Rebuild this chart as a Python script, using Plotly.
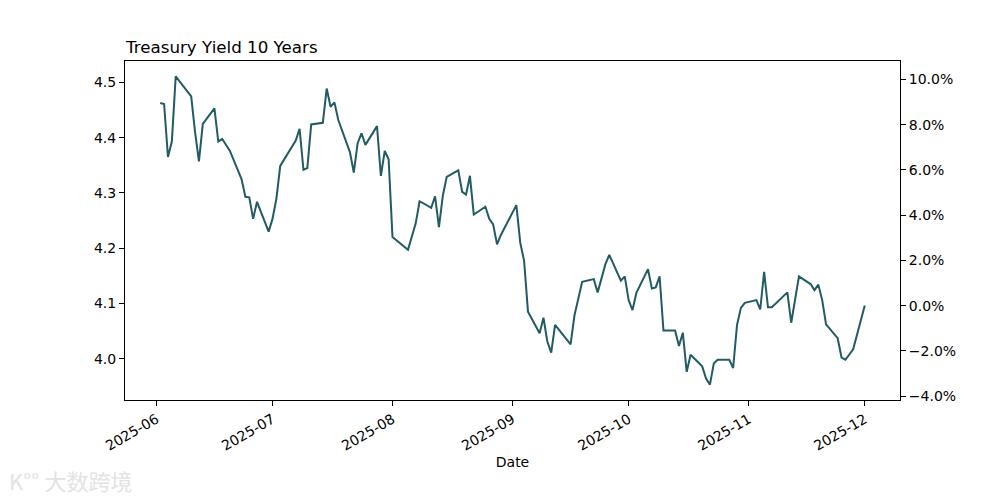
import plotly.graph_objects as go
import pandas as pd

dates = [
    "2025-06-02", "2025-06-03", "2025-06-04", "2025-06-05", "2025-06-06", "2025-06-10", "2025-06-11",
    "2025-06-12", "2025-06-13", "2025-06-16", "2025-06-17", "2025-06-18", "2025-06-20", "2025-06-23",
    "2025-06-24", "2025-06-25", "2025-06-26", "2025-06-27", "2025-06-30", "2025-07-01", "2025-07-02",
    "2025-07-03", "2025-07-07", "2025-07-08", "2025-07-09", "2025-07-10", "2025-07-11", "2025-07-14",
    "2025-07-15", "2025-07-16", "2025-07-17", "2025-07-18", "2025-07-21", "2025-07-22", "2025-07-23",
    "2025-07-24", "2025-07-25", "2025-07-28", "2025-07-29", "2025-07-30", "2025-07-31", "2025-08-01",
    "2025-08-05", "2025-08-07", "2025-08-08", "2025-08-11", "2025-08-12", "2025-08-13", "2025-08-14",
    "2025-08-15", "2025-08-18", "2025-08-19", "2025-08-20", "2025-08-21", "2025-08-22", "2025-08-25",
    "2025-08-26", "2025-08-27", "2025-08-28", "2025-08-29", "2025-09-02", "2025-09-03", "2025-09-04",
    "2025-09-05", "2025-09-08", "2025-09-09", "2025-09-10", "2025-09-11", "2025-09-12", "2025-09-16",
    "2025-09-17", "2025-09-19", "2025-09-22", "2025-09-23", "2025-09-25", "2025-09-26", "2025-09-29",
    "2025-09-30", "2025-10-01", "2025-10-02", "2025-10-03", "2025-10-06", "2025-10-07", "2025-10-08",
    "2025-10-09", "2025-10-10", "2025-10-13", "2025-10-14", "2025-10-15", "2025-10-16", "2025-10-17",
    "2025-10-20", "2025-10-21", "2025-10-22", "2025-10-23", "2025-10-24", "2025-10-27", "2025-10-28",
    "2025-10-29", "2025-10-30", "2025-10-31", "2025-11-03", "2025-11-04", "2025-11-05", "2025-11-06",
    "2025-11-07", "2025-11-11", "2025-11-12", "2025-11-14", "2025-11-17", "2025-11-18", "2025-11-19",
    "2025-11-20", "2025-11-21", "2025-11-24", "2025-11-25", "2025-11-26", "2025-11-28", "2025-12-01",
]

yields = [
    4.463, 4.461, 4.365, 4.393, 4.511, 4.475, 4.410,
    4.357, 4.425, 4.453, 4.393, 4.398, 4.376, 4.325,
    4.293, 4.292, 4.253, 4.284, 4.230, 4.253, 4.289,
    4.349, 4.395, 4.416, 4.342, 4.345, 4.424, 4.427,
    4.489, 4.456, 4.464, 4.432, 4.374, 4.337, 4.390,
    4.408, 4.387, 4.421, 4.331, 4.376, 4.361, 4.220,
    4.197, 4.245, 4.285, 4.273, 4.294, 4.238, 4.295,
    4.329, 4.341, 4.302, 4.297, 4.331, 4.261, 4.275,
    4.253, 4.243, 4.207, 4.224, 4.278, 4.210, 4.177,
    4.085, 4.046, 4.074, 4.031, 4.011, 4.061, 4.026,
    4.078, 4.139, 4.144, 4.120, 4.171, 4.188, 4.141,
    4.149, 4.106, 4.088, 4.119, 4.162, 4.127, 4.129,
    4.149, 4.051, 4.051, 4.023, 4.047, 3.976, 4.007,
    3.986, 3.964, 3.953, 3.991, 3.998, 3.998, 3.983,
    4.061, 4.092, 4.101, 4.106, 4.089, 4.157, 4.093,
    4.093, 4.120, 4.065, 4.149, 4.135, 4.124, 4.134,
    4.106, 4.062, 4.037, 4.002, 3.998, 4.017, 4.096,
]

month_ticks = ["2025-06-01", "2025-07-01", "2025-08-01", "2025-09-01",
               "2025-10-01", "2025-11-01", "2025-12-01"]
month_labels = ["2025-06", "2025-07", "2025-08", "2025-09", "2025-10", "2025-11", "2025-12"]
pct_ticks = [-0.04, -0.02, 0.0, 0.02, 0.04, 0.06, 0.08, 0.10]

title_text = "Treasury Yield 10 Years"
watermark_text = "K°° 大数跨境"
line_color = "#225b62"
font_family = "DejaVu Sans"

# matplotlib-like 5% margins
d = pd.to_datetime(dates)
span = d.max() - d.min()
x_range = [d.min() - 0.05 * span, d.max() + 0.05 * span]
ymin, ymax = min(yields), max(yields)
ypad = 0.05 * (ymax - ymin)
y_range = [ymin - ypad, ymax + ypad]
last = yields[-1]
y2_range = [y_range[0] / last - 1, y_range[1] / last - 1]

fig = go.Figure()
fig.add_trace(go.Scatter(x=d, y=yields, mode="lines",
                         line=dict(color=line_color, width=2),
                         showlegend=False, hoverinfo="x+y"))
# invisible trace for the right (percent change) axis
fig.add_trace(go.Scatter(x=[d[0], d[-1]], y=[yields[0] / last - 1, 0], mode="lines",
                         line=dict(width=0), yaxis="y2", showlegend=False, hoverinfo="skip"))

axis_common = dict(showgrid=False, zeroline=False, showline=True, linecolor="black",
                   linewidth=1, ticks="outside", ticklen=5, tickwidth=1, tickcolor="black",
                   tickfont=dict(family=font_family, size=14, color="black"))

fig.update_layout(
    width=1000, height=500,
    margin=dict(l=117, r=108, t=53, b=108),
    paper_bgcolor="white", plot_bgcolor="white",
    font=dict(family=font_family, size=14, color="black"),
    xaxis=dict(range=x_range, tickvals=pd.to_datetime(month_ticks), ticktext=month_labels,
               tickangle=-30, mirror=True,
               title=dict(text="Date", font=dict(family=font_family, size=14), standoff=4),
               **axis_common),
    yaxis=dict(range=y_range, dtick=0.1, tick0=4.0, tickformat=".1f", **axis_common),
    yaxis2=dict(range=y2_range, overlaying="y", side="right", tickvals=pct_ticks,
                tickformat=".1%", **axis_common),
)
fig.add_annotation(text=title_text, x=0, y=1, xref="paper", yref="paper", xanchor="left",
                   yanchor="bottom", yshift=2, xshift=-2, showarrow=False,
                   font=dict(family=font_family, size=16.7, color="black"))
# watermark
fig.add_annotation(text=watermark_text, xref="paper", yref="paper", x=-0.152, y=-0.236,
                   xanchor="left", yanchor="middle", showarrow=False,
                   font=dict(family="Noto Sans CJK SC", size=22, color="#e3e3e3"))

fig.write_html("out.html")
